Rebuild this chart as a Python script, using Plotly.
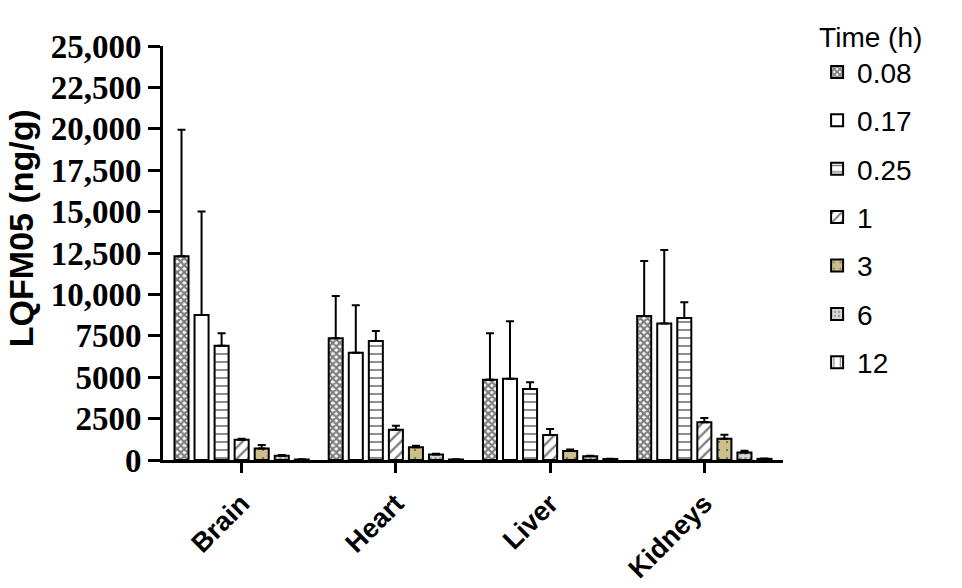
import plotly.graph_objects as go

# Tissue distribution of LQFM05 after dosing, mean + SD per time point
tissues = ["Brain", "Heart", "Liver", "Kidneys"]
times = ["0.08", "0.17", "0.25", "1", "3", "6", "12"]

# mean concentration (ng/g) per time point, ordered Brain, Heart, Liver, Kidneys
mean_008 = [12300, 7350, 4850, 8700]
mean_017 = [8750, 6480, 4900, 8250]
mean_025 = [6900, 7190, 4280, 8580]
mean_1 = [1220, 1830, 1510, 2280]
mean_3 = [700, 765, 540, 1290]
mean_6 = [260, 330, 230, 460]
mean_12 = [30, 30, 60, 70]

# standard deviations (upper error bars only)
sd_008 = [7650, 2560, 2800, 3320]
sd_017 = [6250, 2860, 3480, 4430]
sd_025 = [750, 600, 410, 940]
sd_1 = [60, 240, 360, 260]
sd_3 = [200, 100, 90, 240]
sd_6 = [40, 40, 30, 100]
sd_12 = [10, 10, 10, 15]

means = [mean_008, mean_017, mean_025, mean_1, mean_3, mean_6, mean_12]
sds = [sd_008, sd_017, sd_025, sd_1, sd_3, sd_6, sd_12]

# fill / hatch style of each time point
styles = [
    dict(shape="x", fgcolor="black", bgcolor="white", size=5, solidity=0.7),
    dict(shape="", fgcolor="black", bgcolor="white", size=8, solidity=0.2),
    dict(shape="-", fgcolor="black", bgcolor="white", size=8, solidity=0.22),
    dict(shape="/", fgcolor="black", bgcolor="white", size=8, solidity=0.28),
    dict(shape=".", fgcolor="black", bgcolor="#cdbf8b", size=8, solidity=0.06),
    dict(shape=".", fgcolor="#555555", bgcolor="#d9d9d9", size=5, solidity=0.3),
    dict(shape="|", fgcolor="black", bgcolor="white", size=8, solidity=0.18),
]
base_colors = ["white", "white", "white", "white", "#cdbf8b", "#d9d9d9", "white"]

fig = go.Figure()
for name, m, s, st, col in zip(times, means, sds, styles, base_colors):
    fig.add_trace(go.Bar(
        name=name,
        x=tissues,
        y=m,
        legendgroup=name,
        marker=dict(color=col, line=dict(color="black", width=2), pattern=st),
        error_y=dict(type="data", symmetric=False, array=s,
                     arrayminus=[0] * len(s), color="black",
                     thickness=2, width=4),
    ))

tick_vals = [0, 2500, 5000, 7500, 10000, 12500, 15000, 17500, 20000, 22500, 25000]
tick_text = ["0", "2500", "5000", "7500", "10,000", "12,500", "15,000",
             "17,500", "20,000", "22,500", "25,000"]

fig.update_layout(
    width=962,
    height=588,
    margin=dict(l=163, r=179, t=46, b=128, autoexpand=False),
    paper_bgcolor="white",
    plot_bgcolor="white",
    barmode="group",
    bargap=0.09,
    bargroupgap=0.3,
    showlegend=True,
    legend=dict(
        title=dict(text="Time (h)", font=dict(family="Liberation Sans, Arial", size=28, color="black")),
        font=dict(family="Liberation Sans, Arial", size=28, color="black"),
        x=1.055, xanchor="left",
        y=1.085, yanchor="top",
        tracegroupgap=9,
        traceorder="grouped",
        maxheight=560,
        bgcolor="rgba(0,0,0,0)",
    ),
    xaxis=dict(
        range=[-0.51, 3.51],
        automargin=False,
        showline=True, linecolor="black", linewidth=3,
        ticks="outside", ticklen=10, tickwidth=3, tickcolor="black",
        tickangle=-45, ticklabelstandoff=4,
        tickfont=dict(family="Liberation Sans, Arial", size=27, color="black", weight="bold"),
        showgrid=False, zeroline=False,
    ),
    yaxis=dict(
        range=[0, 25000],
        automargin=False,
        tickvals=tick_vals, ticktext=tick_text,
        showline=True, linecolor="black", linewidth=3,
        ticks="outside", ticklen=12, tickwidth=2.5, tickcolor="black",
        tickfont=dict(family="Liberation Serif, Times New Roman", size=33, color="black", weight="bold"),
        showgrid=False, zeroline=False,
    ),
    annotations=[dict(
        text="LQFM05 (ng/g)", textangle=-90,
        xref="paper", yref="paper", x=-0.229, y=0.56,
        xanchor="center", yanchor="middle", showarrow=False,
        font=dict(family="Liberation Sans, Arial", size=34, color="black", weight="bold"),
    )],
)

fig.write_html("out.html")
